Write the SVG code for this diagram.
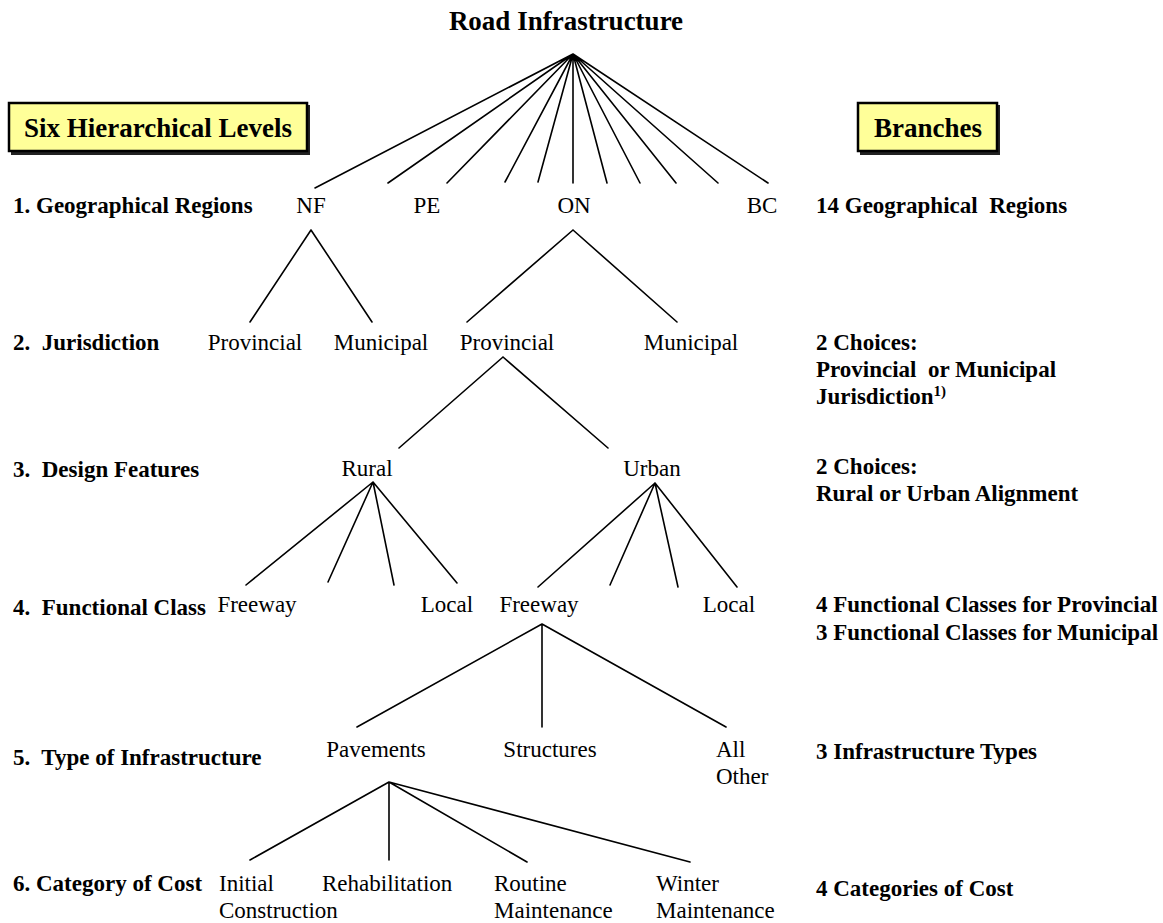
<svg xmlns="http://www.w3.org/2000/svg" width="1163" height="923" viewBox="0 0 1163 923">
<style>
text{font-family:"Liberation Serif","Times New Roman",serif;fill:#000}
.b{font-weight:bold;font-size:23px}
.r{font-size:23px}
.t{font-weight:bold;font-size:27px}
.m{text-anchor:middle}
.ln{stroke:#000;stroke-width:1.6;fill:none;stroke-linecap:round}
.box{fill:#FFFF99;stroke:#000;stroke-width:2.5}
.sh{fill:#222}
</style>
<rect width="1163" height="923" fill="#fff"/>
<g id="title"><text class="t m" x="566" y="30">Road Infrastructure</text></g>
<g id="box-levels">
<rect class="sh" x="11" y="105" width="299" height="50"/>
<rect class="box" x="9" y="103" width="298" height="48"/>
<text class="t m" x="158" y="137">Six Hierarchical Levels</text>
</g>
<g id="box-branches">
<rect class="sh" x="860" y="105" width="140" height="50"/>
<rect class="box" x="858" y="103" width="139" height="48"/>
<text class="t m" x="928" y="137">Branches</text>
</g>
<g id="level-labels">
<text class="b" x="13" y="213">1. Geographical Regions</text>
<text class="b" x="13" y="350" xml:space="preserve">2.  Jurisdiction</text>
<text class="b" x="13" y="477" xml:space="preserve">3.  Design Features</text>
<text class="b" x="13" y="615" xml:space="preserve">4.  Functional Class</text>
<text class="b" x="13" y="765" xml:space="preserve">5.  Type of Infrastructure</text>
<text class="b" x="13" y="891">6. Category of Cost</text>
</g>
<g id="branch-labels">
<text class="b" x="816" y="213" xml:space="preserve">14 Geographical  Regions</text>
<text class="b" x="816" y="350">2 Choices:</text>
<text class="b" x="816" y="377" xml:space="preserve">Provincial  or Municipal</text>
<text class="b" x="816" y="404">Jurisdiction<tspan font-size="15" dy="-8">1)</tspan></text>
<text class="b" x="816" y="474">2 Choices:</text>
<text class="b" x="816" y="501">Rural or Urban Alignment</text>
<text class="b" x="816" y="612">4 Functional Classes for Provincial</text>
<text class="b" x="816" y="640">3 Functional Classes for Municipal</text>
<text class="b" x="816" y="759">3 Infrastructure Types</text>
<text class="b" x="816" y="896">4 Categories of Cost</text>
</g>
<g id="connectors">
<path class="ln" d="M573 54L315 188M573 54L388 183M573 54L447 183M573 54L505 182M573 54L538 182M573 54L573 183M573 54L607 183M573 54L640 183M573 54L676 183M573 54L718 183M573 54L768 183"/>
<path class="ln" d="M311 230L250 322M311 230L372 322"/>
<path class="ln" d="M573 230L467 322M573 230L677 322"/>
<path class="ln" d="M503 357L399 448M503 357L608 448"/>
<path class="ln" d="M373 482L246 585M373 482L328 582M373 482L394 585M373 482L457 583"/>
<path class="ln" d="M655 483L538 587M655 483L610 585M655 483L678 587M655 483L737 587"/>
<path class="ln" d="M542 624L357 727M542 624L542 727M542 624L726 727"/>
<path class="ln" d="M389 782L250 860M389 782L389 860M389 782L527 862M389 782L690 862"/>
</g>
<g id="n-regions">
<text class="r m" x="311" y="213">NF</text>
<text class="r m" x="427" y="213">PE</text>
<text class="r m" x="574" y="213">ON</text>
<text class="r m" x="762" y="213">BC</text>
</g>
<g id="n-jurisdiction">
<text class="r m" x="255" y="350">Provincial</text>
<text class="r m" x="381" y="350">Municipal</text>
<text class="r m" x="507" y="350">Provincial</text>
<text class="r m" x="691" y="350">Municipal</text>
</g>
<g id="n-design">
<text class="r m" x="367" y="476">Rural</text>
<text class="r m" x="652" y="476">Urban</text>
</g>
<g id="n-functional">
<text class="r m" x="257" y="612">Freeway</text>
<text class="r m" x="447" y="612">Local</text>
<text class="r m" x="539" y="612">Freeway</text>
<text class="r m" x="729" y="612">Local</text>
</g>
<g id="n-type">
<text class="r m" x="376" y="757">Pavements</text>
<text class="r m" x="550" y="757">Structures</text>
<text class="r" x="716" y="757">All</text>
<text class="r" x="716" y="784">Other</text>
</g>
<g id="n-cost">
<text class="r" x="219" y="891">Initial</text>
<text class="r" x="219" y="918">Construction</text>
<text class="r" x="322" y="891">Rehabilitation</text>
<text class="r" x="494" y="891">Routine</text>
<text class="r" x="494" y="918">Maintenance</text>
<text class="r" x="656" y="891">Winter</text>
<text class="r" x="656" y="918">Maintenance</text>
</g>
</svg>
